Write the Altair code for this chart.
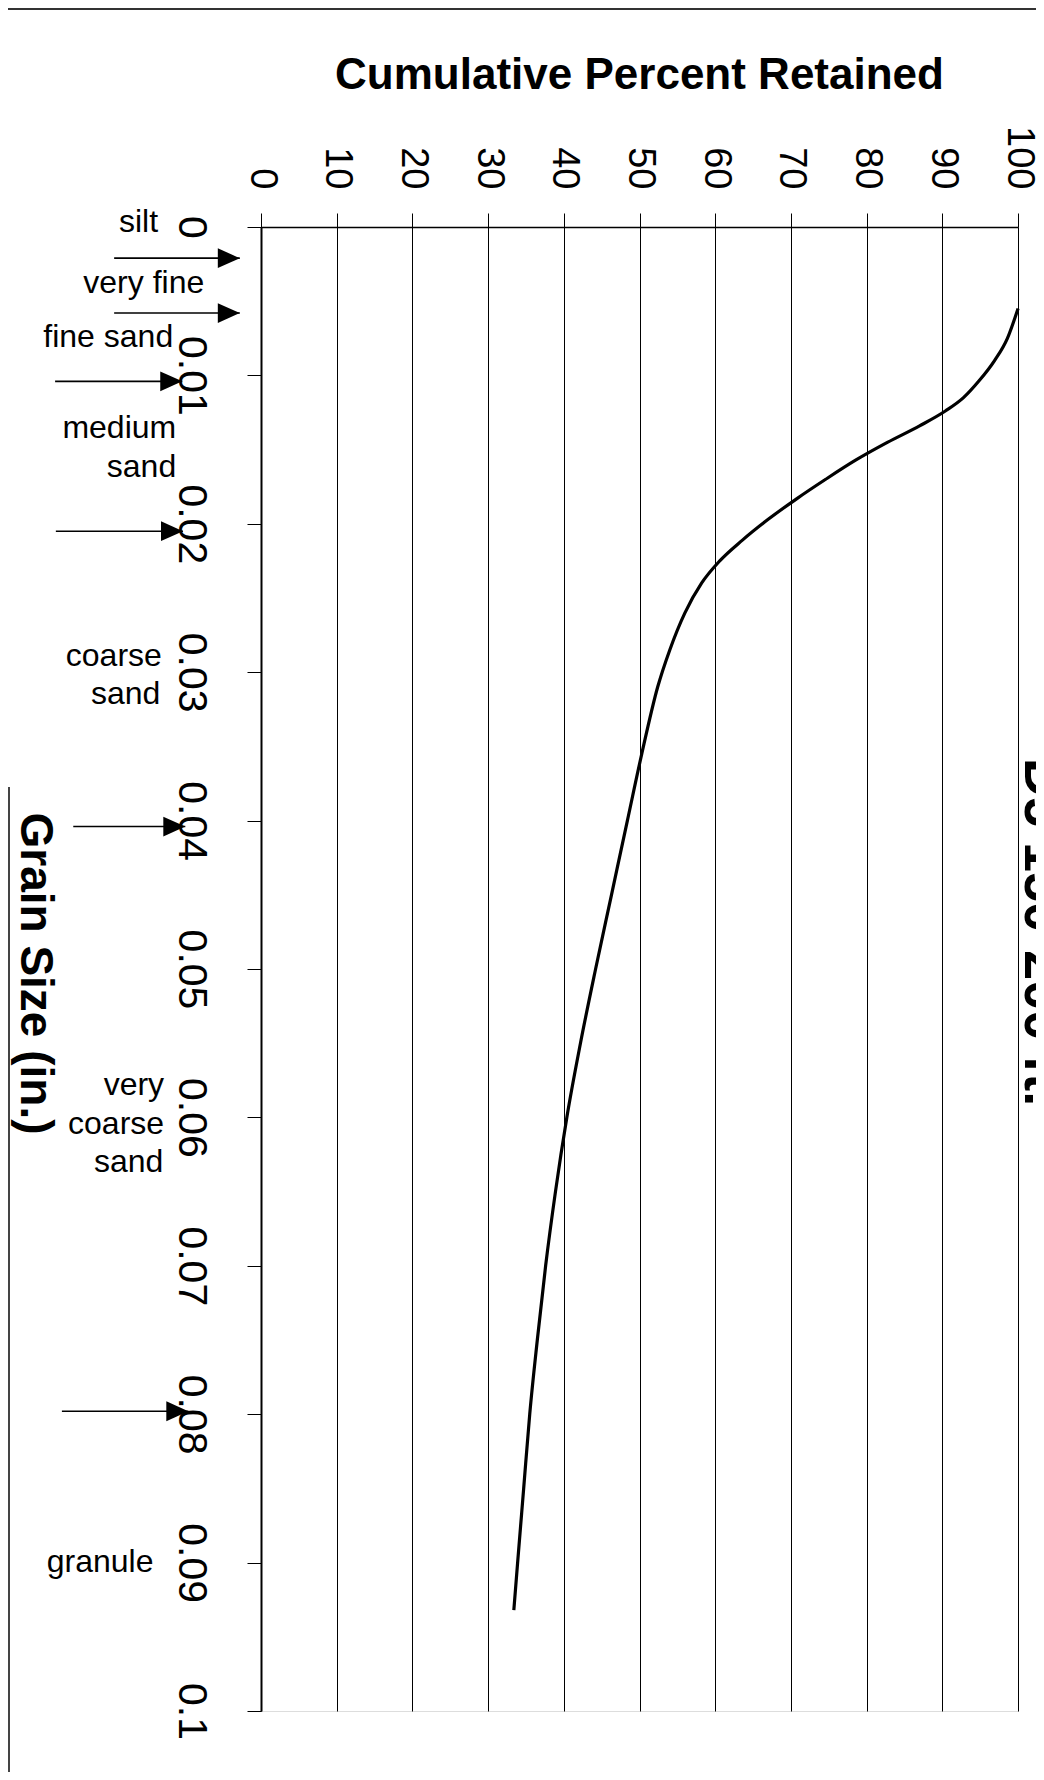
import altair as alt
import pandas as pd

# ---- data ----
grain_size = [0.0055, 0.0075, 0.0090, 0.0104, 0.0115, 0.0124, 0.0134, 0.0145, 0.0157,
              0.0170, 0.0183, 0.0197, 0.0211, 0.0225, 0.0240, 0.0260, 0.0285, 0.0310,
              0.0355, 0.0400, 0.0450, 0.0500, 0.0550, 0.0600, 0.0650, 0.0700, 0.0750,
              0.0800, 0.0850, 0.0900, 0.0932]
pct_retained = [100.0, 98.6, 96.9, 94.8, 92.8, 90.4, 87.0, 82.8, 78.6,
                74.6, 70.8, 67.0, 63.6, 60.6, 58.2, 56.0, 54.0, 52.4,
                50.3, 48.4, 46.3, 44.2, 42.2, 40.4, 38.9, 37.6, 36.5,
                35.5, 34.7, 33.9, 33.4]

pct_ticks = [0, 10, 20, 30, 40, 50, 60, 70, 80, 90, 100]
grain_ticks = [0, 0.01, 0.02, 0.03, 0.04, 0.05, 0.06, 0.07, 0.08, 0.09, 0.1]

# class labels (text lines) placed beside the grain-size axis
label_text = ["silt", "very fine", "fine sand", "medium", "sand", "coarse", "sand",
              "very", "coarse", "sand", "granule"]
label_grain = [0.00034, 0.00445, 0.0081, 0.01422, 0.01685, 0.02958, 0.03214,
               0.0585, 0.0611, 0.0637, 0.0906]
label_pct = [-13.6, -7.5, -11.6, -11.2, -11.2, -13.1, -13.3, -12.8, -12.8, -12.9, -14.2]

# boundary arrows between classes
arrow_grain = [0.0021, 0.0058, 0.0104, 0.0205, 0.0404, 0.0798]
arrow_start = [-19.4, -19.4, -27.2, -27.1, -24.8, -26.3]
arrow_tip = [-2.8, -2.8, -10.4, -10.3, -10.0, -9.6]

curve = pd.DataFrame({"grain": grain_size, "pct": pct_retained})
labels = pd.DataFrame({"text": label_text, "grain": label_grain, "pct": label_pct})
arrows = pd.DataFrame({"grain": arrow_grain, "start": arrow_start, "tip": arrow_tip})

FONT = "Liberation Sans"

x_scale = alt.Scale(domain=[0, 100], nice=False, zero=False)
y_scale = alt.Scale(domain=[0, 0.1], nice=False, zero=False, reverse=True)

x_axis = alt.Axis(
    orient="top", values=pct_ticks, labelAngle=90, labelAlign="right",
    labelBaseline="middle", labelFont=FONT, labelFontSize=38, labelColor="black",
    labelPadding=24, tickSize=14, tickColor="black", tickWidth=1,
    domainColor="black", domainWidth=1.5, grid=True, gridColor="black",
    gridWidth=1, gridOpacity=1, labelOverlap=False, labelFlush=False,
    title="Cumulative Percent Retained", titleFont=FONT, titleFontSize=44,
    titleFontWeight="bold", titleColor="black", titleX=378, titleY=-139,
    titleAlign="center", titleBaseline="alphabetic", titleAngle=0,
)
y_axis = alt.Axis(
    orient="left", values=grain_ticks, format=".2~f", labelAngle=90,
    labelAlign="center", labelBaseline="top", labelFont=FONT, labelFontSize=41,
    labelColor="black", labelPadding=37, tickSize=14, tickColor="black",
    tickWidth=1, domainColor="black", domainWidth=2, grid=False,
    labelOverlap=False, labelFlush=False,
    title="Grain Size (in.)", titleFont=FONT, titleFontSize=46,
    titleFontWeight="bold", titleColor="black", titleAngle=90,
    titleX=-241, titleY=746, titleAlign="center", titleBaseline="alphabetic",
)

line = alt.Chart(curve).mark_line(
    color="black", strokeWidth=3.2, interpolate="monotone"
).encode(
    x=alt.X("pct:Q", scale=x_scale, axis=x_axis),
    y=alt.Y("grain:Q", scale=y_scale, axis=y_axis),
    order=alt.Order("grain:Q"),
)

texts = alt.Chart(labels).mark_text(
    align="right", baseline="alphabetic", font=FONT, fontSize=32, color="black"
).encode(
    x=alt.X("pct:Q", scale=x_scale),
    y=alt.Y("grain:Q", scale=y_scale),
    text="text:N",
)

shafts = alt.Chart(arrows).mark_rule(color="black", strokeWidth=1.6).encode(
    x=alt.X("start:Q", scale=x_scale),
    x2="tip:Q",
    y=alt.Y("grain:Q", scale=y_scale),
)

heads = alt.Chart(arrows).mark_point(
    shape="M-1,-0.9L1,0L-1,0.9Z", size=484, filled=True, color="black",
    opacity=1, xOffset=-11, strokeWidth=0,
).encode(
    x=alt.X("tip:Q", scale=x_scale),
    y=alt.Y("grain:Q", scale=y_scale),
)

side_title = alt.Chart(pd.DataFrame({"t": ["D5 150-200 ft."]})).mark_text(
    angle=90, align="left", baseline="alphabetic", font=FONT, fontSize=54,
    fontWeight="bold", color="black",
).encode(x=alt.value(764), y=alt.value(531), text="t:N")

page_top = alt.Chart(pd.DataFrame({"a": [0]})).mark_rule(
    color="#333333", strokeWidth=2
).encode(x=alt.value(-253), x2=alt.value(775), y=alt.value(-218))

page_left = alt.Chart(pd.DataFrame({"a": [0]})).mark_rule(
    color="#444444", strokeWidth=2
).encode(x=alt.value(-252), y=alt.value(560), y2=alt.value(1545))

chart = alt.layer(
    page_top, page_left, line, shafts, heads, texts, side_title
).properties(
    width=757, height=1484,
    autosize=alt.AutoSizeParams(type="none"),
    padding={"left": 253, "top": 219, "right": 18, "bottom": 61},
).configure_view(
    stroke="black", strokeWidth=1.5
).configure(background="white")

chart.save("out.html", embed_options={"renderer": "svg", "actions": False})
